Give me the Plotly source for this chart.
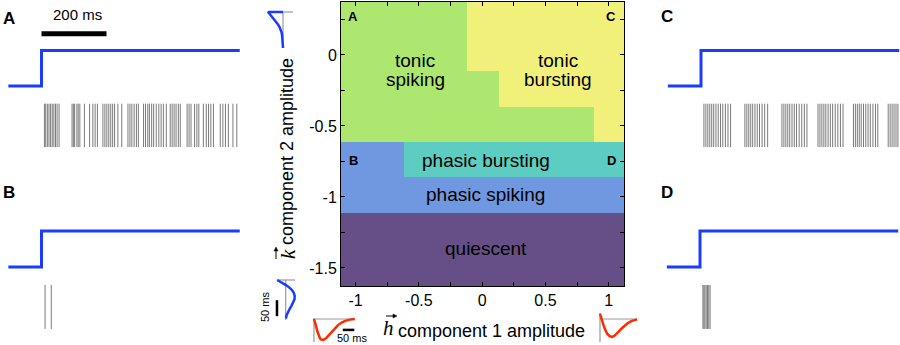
import plotly.graph_objects as go

# ---------------- data ----------------
# phase diagram (h component 1 amplitude vs k component 2 amplitude)
region_names = ["quiescent", "phasic spiking", "phasic bursting", "tonic spiking", "tonic bursting"]
region_colors = ["#664f86", "#6f98e0", "#5ccdc0", "#ade76f", "#f1f07a"]
h1_edges = [-1.115, -0.617, -0.12, 0.134, 0.88, 1.12]
k2_edges = [-1.627, -1.11, -0.861, -0.61, -0.364, -0.113, 0.373]
region_grid = [
    [0, 0, 0, 0, 0],
    [1, 1, 1, 1, 1],
    [1, 2, 2, 2, 2],
    [3, 3, 3, 3, 4],
    [3, 3, 3, 4, 4],
    [3, 3, 4, 4, 4],
]
x_tickvals = [-1, -0.75, -0.5, -0.25, 0, 0.25, 0.5, 0.75, 1]
x_ticktext = ["-1", "", "-0.5", "", "0", "", "0.5", "", "1"]
y_tickvals = [-1.5, -1.25, -1, -0.75, -0.5, -0.25, 0, 0.25]
y_ticktext = ["-1.5", "", "-1", "", "-0.5", "", "0", ""]

# step stimulus (ms, amplitude)
stim_t = [-102, 0, 0, 610]
stim_amp = [0, 0, 1, 1]

# spike times (ms after step) for the four example points
spikes_A = [9, 13, 18, 23, 28, 33, 38, 43, 48, 54,
            94, 98, 102, 109, 113, 118, 132, 148, 158, 165, 172,
            189, 195, 201, 207, 213, 219, 225, 235, 247,
            266, 272, 278, 285, 292, 298, 314, 320, 327, 332, 339, 345, 353,
            361, 368, 375, 384, 396, 402, 408, 414, 421, 427,
            448, 454, 460, 471, 478, 484, 498, 507, 514, 521, 529,
            550, 558, 566, 575, 589, 601]
spikes_B = [11, 30]
spikes_C = [9, 15, 21, 27, 33, 39, 46, 53, 60, 67, 75, 83, 91,
            135, 141, 147, 153, 159, 166, 173, 180, 188, 196, 205,
            249, 255, 261, 267, 273, 280, 287, 294, 302, 310, 318, 326,
            360, 366, 372, 378, 384, 391, 398, 405, 413, 421, 429, 437,
            469, 475, 481, 487, 493, 500, 507, 514, 521, 529, 537, 544,
            576, 582, 588, 594, 600, 606]
spikes_D = [9, 12, 15, 19, 23, 27, 31]
raster_top, raster_bottom = -0.5, -1.72

# scale bar (ms)
bar_t = [0, 200]

# kernels
k_top_t = [0, 0, 8, 16, 24, 32, 40, 48, 56, 64, 75, 90, 105, 115]
k_top_amp = [0, -1.0, -0.86, -0.72, -0.58, -0.45, -0.33, -0.23, -0.15, -0.1, -0.06, -0.03, -0.01, 0.0]
k_bot_t = [0, 5, 10, 15, 20, 30, 40, 50, 60, 70, 80, 90, 100, 110, 120]
k_bot_amp = [-0.95, -0.6, -0.3, -0.02, 0.25, 0.65, 0.9, 1.0, 0.98, 0.85, 0.65, 0.45, 0.25, 0.1, 0.03]
h_left_t = [0, 5, 10, 15, 20, 25, 30, 35, 40, 50, 60, 70, 80, 90, 100, 115, 130, 150, 170]
h_left_amp = [0, -0.15, -0.4, -0.62, -0.8, -0.92, -0.98, -1.0, -0.99, -0.92, -0.8, -0.66, -0.52, -0.4, -0.29, -0.17, -0.09, -0.03, 0.0]
h_right_t = [0, 5, 10, 15, 20, 25, 30, 40, 50, 60, 70, 80, 90, 100, 115, 130, 155]
h_right_amp = [0.25, 0.1, -0.1, -0.3, -0.47, -0.6, -0.7, -0.82, -0.85, -0.8, -0.7, -0.58, -0.45, -0.34, -0.2, -0.1, -0.02]
kbar_t = [63, 113]
hbar_t = [120, 168]

# ---------------- figure ----------------
W, H = 900, 345
BLUE = "#1a3cff"
RED = "#ff2a00"
GREY = "#9a9a9a"
FONT = "Liberation Sans"
SERIF = "Liberation Serif"


def px(x):
    return x / W


def py(y):
    return 1 - y / H


fig = go.Figure()

fig.add_trace(go.Heatmap(
    x=h1_edges, y=k2_edges, z=region_grid, zmin=0, zmax=4,
    colorscale=[[0, region_colors[0]], [0.25, region_colors[1]], [0.5, region_colors[2]],
                [0.75, region_colors[3]], [1, region_colors[4]]],
    showscale=False, hoverinfo="skip", xaxis="x", yaxis="y"))


def raster(times):
    xs, ys = [], []
    for t in times:
        xs += [t, t, None]
        ys += [raster_top, raster_bottom, None]
    return xs, ys


panels = [("2", spikes_A), ("3", spikes_B), ("4", spikes_C), ("5", spikes_D)]
for ax, sp in panels:
    fig.add_trace(go.Scatter(x=stim_t, y=stim_amp, mode="lines",
                             line=dict(color=BLUE, width=3), xaxis="x" + ax, yaxis="y" + ax,
                             hoverinfo="skip", showlegend=False))
    rx, ry = raster(sp)
    fig.add_trace(go.Scatter(x=rx, y=ry, mode="lines",
                             line=dict(color="#7a7a7a", width=1), xaxis="x" + ax, yaxis="y" + ax,
                             hoverinfo="skip", showlegend=False))

# 200 ms scale bar in panel A
fig.add_trace(go.Scatter(x=bar_t, y=[1.47, 1.47], mode="lines", line=dict(color="black", width=5),
                         xaxis="x2", yaxis="y2", hoverinfo="skip", showlegend=False))


def add_line(x, y, ax, color, width):
    fig.add_trace(go.Scatter(x=x, y=y, mode="lines", line=dict(color=color, width=width),
                             xaxis="x" + ax, yaxis="y" + ax, hoverinfo="skip", showlegend=False))


# top k inset (time runs downward)
add_line([-1.0, 0.667], [0, 0], "6", GREY, 1.2)
add_line([0, 0], [0, 115], "6", GREY, 1.2)
add_line(k_top_amp, k_top_t, "6", BLUE, 2.5)
# bottom k inset
add_line([-0.967, 1.033], [0, 0], "7", GREY, 1.2)
add_line([0, 0], [0, 125], "7", GREY, 1.2)
add_line(k_bot_amp, k_bot_t, "7", BLUE, 2.5)
add_line([-0.97, -0.97], kbar_t, "7", "black", 2.5)
# bottom-left h inset
add_line([0, 0], [0.05, -1.09], "8", GREY, 1.2)
add_line([0, 171], [0, 0], "8", GREY, 1.2)
add_line(h_left_t, h_left_amp, "8", RED, 2.5)
add_line(hbar_t, [-0.52, -0.52], "8", "black", 2.5)
# bottom-right h inset
add_line([0, 0], [0.29, -1.1], "9", GREY, 1.2)
add_line([0, 154], [0, 0], "9", GREY, 1.2)
add_line(h_right_t, h_right_amp, "9", RED, 2.5)

hidden = dict(visible=False, fixedrange=True)
layout = dict(
    width=W, height=H, margin=dict(l=0, r=0, t=0, b=0),
    paper_bgcolor="white", plot_bgcolor="rgba(0,0,0,0)", showlegend=False,
    font=dict(family=FONT, size=16, color="black"),
    xaxis=dict(domain=[px(341), px(624)], range=[h1_edges[0], h1_edges[-1]],
               tickvals=x_tickvals, ticktext=x_ticktext, ticks="inside", ticklen=4,
               tickcolor="black", showline=True, linecolor="black", linewidth=1, mirror="allticks",
               showgrid=False, zeroline=False, tickfont=dict(size=16), anchor="y", fixedrange=True),
    yaxis=dict(domain=[py(286), py(2)], range=[k2_edges[0], k2_edges[-1]],
               tickvals=y_tickvals, ticktext=y_ticktext, ticks="inside", ticklen=4,
               tickcolor="black", showline=True, linecolor="black", linewidth=1, mirror="allticks",
               showgrid=False, zeroline=False, tickfont=dict(size=16), anchor="x", fixedrange=True),
    xaxis2=dict(domain=[0, px(250)], range=[(0 - 41.5) / 0.325, (250 - 41.5) / 0.325], anchor="y2", **hidden),
    yaxis2=dict(domain=[py(160.6), py(0.6)], range=[-2.1, 2.4], anchor="x2", **hidden),
    xaxis3=dict(domain=[0, px(250)], range=[(0 - 41.5) / 0.325, (250 - 41.5) / 0.325], anchor="y3", **hidden),
    yaxis3=dict(domain=[py(342.6), py(180.6)], range=[-2.1, 2.4], anchor="x3", **hidden),
    xaxis4=dict(domain=[px(640), 1], range=[(640 - 701) / 0.325, (900 - 701) / 0.325], anchor="y4", **hidden),
    yaxis4=dict(domain=[py(160.6), py(0.6)], range=[-2.1, 2.4], anchor="x4", **hidden),
    xaxis5=dict(domain=[px(640), 1], range=[(640 - 700) / 0.325, (900 - 700) / 0.325], anchor="y5", **hidden),
    yaxis5=dict(domain=[py(342.6), py(180.6)], range=[-2.1, 2.4], anchor="x5", **hidden),
    xaxis6=dict(domain=[px(264), px(298)], range=[(264 - 283) / 15, (298 - 283) / 15], anchor="y6", **hidden),
    yaxis6=dict(domain=[py(52), py(8)], range=[(52 - 12) / 0.313, (8 - 12) / 0.313], anchor="x6", **hidden),
    xaxis7=dict(domain=[px(270), px(300)], range=[(270 - 285.7) / 9, (300 - 285.7) / 9], anchor="y7", **hidden),
    yaxis7=dict(domain=[py(326), py(274)], range=[(326 - 280) / 0.32, (274 - 280) / 0.32], anchor="x7", **hidden),
    xaxis8=dict(domain=[px(308), px(362)], range=[(308 - 314) / 0.24, (362 - 314) / 0.24], anchor="y8", **hidden),
    yaxis8=dict(domain=[py(345), py(310)], range=[-(345 - 319) / 21, (319 - 310) / 21], anchor="x8", **hidden),
    xaxis9=dict(domain=[px(596), px(642)], range=[(596 - 600) / 0.24, (642 - 600) / 0.24], anchor="y9", **hidden),
    yaxis9=dict(domain=[py(345), py(308)], range=[-(345 - 319) / 21, (319 - 308) / 21], anchor="x9", **hidden),
)
fig.update_layout(**layout)

ann = []


def note(text, x, y, size, family=FONT, **kw):
    d = dict(text=text, x=x, y=y, xref="paper", yref="paper", showarrow=False,
             font=dict(size=size, family=family, color="black"), xanchor="center", yanchor="middle")
    d.update(kw)
    ann.append(d)


# region labels (data coordinates of the phase diagram)
def region_label(text, xd, yd):
    ann.append(dict(text=text, x=xd, y=yd, xref="x", yref="y", showarrow=False,
                    font=dict(size=19, family=FONT, color="black"), xanchor="center", yanchor="middle"))


region_label("tonic", -0.53, -0.04)
region_label("spiking", -0.53, -0.175)
region_label("tonic", 0.6, -0.04)
region_label("bursting", 0.6, -0.175)
region_label("phasic bursting", 0.03, -0.74)
region_label("phasic spiking", 0.03, -0.985)
region_label("quiescent", 0.03, -1.36)

# corner letters on the phase diagram
note("<b>A</b>", px(353), py(16), 13)
note("<b>C</b>", px(611), py(16), 13)
note("<b>B</b>", px(353), py(160), 13)
note("<b>D</b>", px(611), py(160), 13)

# panel letters
note("<b>A</b>", px(8.5), py(18), 17)
note("<b>B</b>", px(8.5), py(193), 17)
note("<b>C</b>", px(667), py(17), 17)
note("<b>D</b>", px(667), py(193), 17)

# 200 ms label
note("200 ms", px(77), py(15), 15)

# axis titles (vector symbols: italic letter + small drawn arrow)
note("component 1 amplitude", px(491), py(331), 18)
note("<i>h</i>", px(388), py(328), 21, family=SERIF)
note("component 2 amplitude", px(287), py(152), 18, textangle=-90)
note("<i>k</i>", px(288), py(254), 21, family=SERIF, textangle=-90)

# inset scale labels
note("50 ms", px(265), py(307), 11, textangle=-90)
note("50 ms", px(352), py(338), 11)

fig.update_layout(annotations=ann)

# small vector arrows over h and k
arrow_shapes = [
    dict(type="line", xref="paper", yref="paper", x0=px(386), y0=py(316), x1=px(394), y1=py(316),
         line=dict(color="black", width=1)),
    dict(type="path", xref="paper", yref="paper",
         path="M {} {} L {} {} L {} {} Z".format(px(397), py(316), px(393), py(314), px(393), py(318)),
         fillcolor="black", line=dict(color="black", width=0.5)),
    dict(type="line", xref="paper", yref="paper", x0=px(276), y0=py(259), x1=px(276), y1=py(250),
         line=dict(color="black", width=1)),
    dict(type="path", xref="paper", yref="paper",
         path="M {} {} L {} {} L {} {} Z".format(px(276), py(247), px(274), py(251), px(278), py(251)),
         fillcolor="black", line=dict(color="black", width=0.5)),
]
fig.update_layout(shapes=arrow_shapes)

fig.write_html("out.html", config={"displayModeBar": False, "staticPlot": True},
               post_script="document.body.style.margin='0';document.body.style.padding='0';")
